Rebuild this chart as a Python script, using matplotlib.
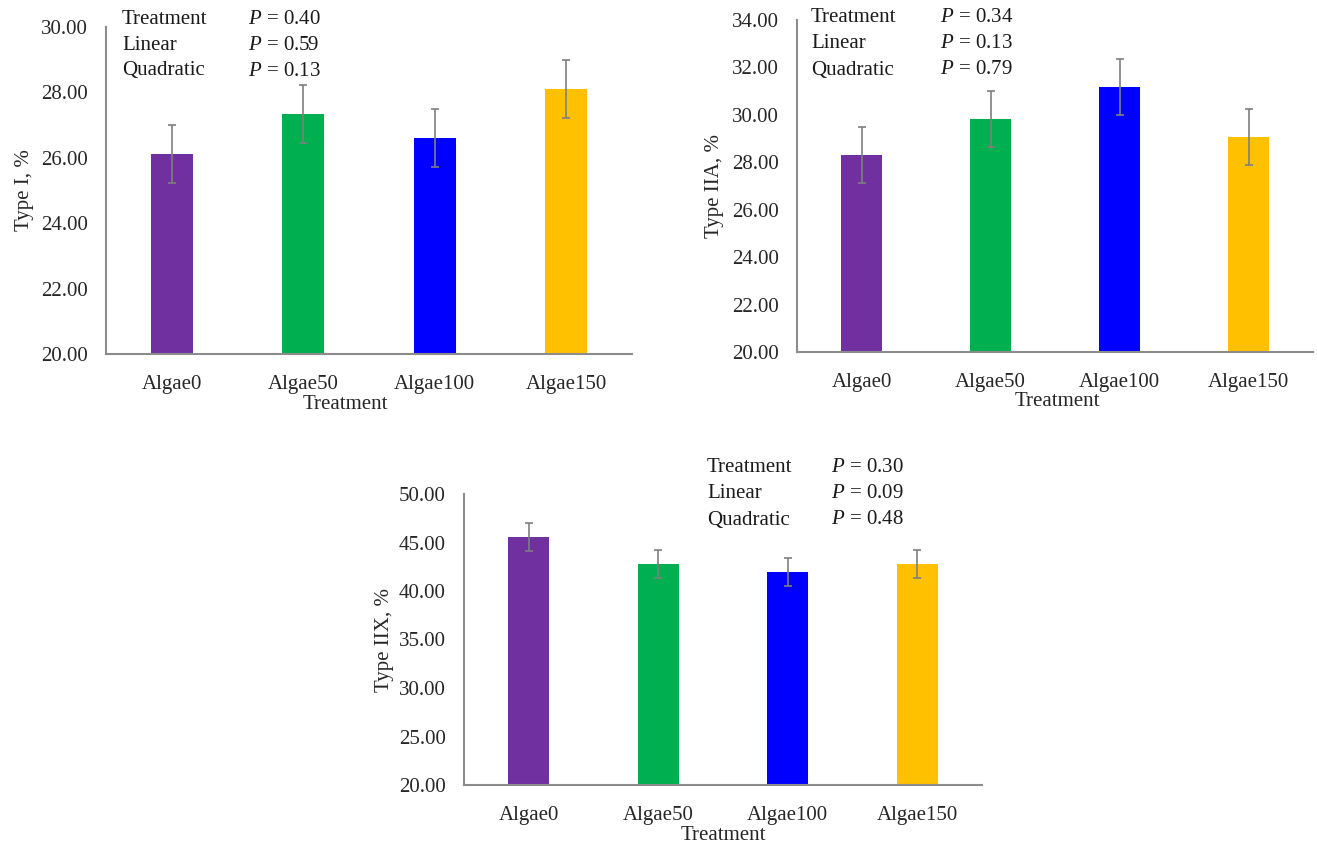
import matplotlib
matplotlib.use("Agg")
import matplotlib.pyplot as plt

plt.rcParams['font.family'] = ['Liberation Serif', 'DejaVu Serif']
plt.rcParams['mathtext.fontset'] = 'custom'
plt.rcParams['mathtext.it'] = 'Liberation Serif:italic'
plt.rcParams['mathtext.rm'] = 'Liberation Serif'

treatments = ['Algae0', 'Algae50', 'Algae100', 'Algae150']
colors = ['#7030A0', '#00B050', '#0000FF', '#FFC000']

type1_mean = [26.12, 27.34, 26.60, 28.10]
type1_err = [0.89, 0.89, 0.89, 0.89]
type1_p = ['0.40', '0.59', '0.13']

type2a_mean = [28.31, 29.83, 31.18, 29.07]
type2a_err = [1.18, 1.18, 1.18, 1.18]
type2a_p = ['0.34', '0.13', '0.79']

type2x_mean = [45.57, 42.78, 41.96, 42.78]
type2x_err = [1.44, 1.44, 1.44, 1.44]
type2x_p = ['0.30', '0.09', '0.48']

effects = ['Treatment', 'Linear', 'Quadratic']

W, H = 1317, 848


def px_axes(fig, left, right, top, bottom):
    return fig.add_axes([left / W, 1 - bottom / H, (right - left) / W, (bottom - top) / H])


def draw_panel(ax, means, errs, pvals, ylabel, ylim, yticks, box_px, xlabel_x, ylabel_dx, txt):
    x = range(len(treatments))
    ax.bar(x, [m - ylim[0] for m in means], bottom=ylim[0], width=0.32, color=colors, zorder=2)
    ax.errorbar(x, means, yerr=errs, fmt='none', ecolor='#7f7f7f', elinewidth=1.2,
                capsize=3, capthick=1.2, zorder=3)
    ax.set_xlim(-0.5, len(treatments) - 0.5)
    ax.set_ylim(*ylim)
    ax.set_yticks(yticks)
    ax.set_yticklabels([f'{v:.2f}' for v in yticks])
    ax.set_xticks(list(x))
    ax.set_xticklabels(treatments)
    for s in ['top', 'right']:
        ax.spines[s].set_visible(False)
    for s in ['left', 'bottom']:
        ax.spines[s].set_color('#8c8c8c')
        ax.spines[s].set_linewidth(1.5)
    ax.tick_params(axis='both', length=0, labelsize=15, colors='#262626')
    ax.tick_params(axis='y', pad=13)
    ax.tick_params(axis='x', pad=15)

    left, right, top, bottom = box_px
    w = right - left
    h = bottom - top
    ax.set_xlabel('Treatment', fontsize=15, color='#262626', va='center')
    ax.xaxis.set_label_coords((xlabel_x - left) / w, -50 / h)
    ax.set_ylabel(ylabel, fontsize=15, color='#262626', va='center')
    ax.yaxis.set_label_coords(-(ylabel_dx - 3) / w, 0.5)

    tx, px, ty = txt
    for i, (name, p) in enumerate(zip(effects, pvals)):
        yy = ty + i * 26
        ax.text((tx - left) / w, (bottom - yy) / h, name, transform=ax.transAxes,
                fontsize=15, va='center', ha='left', color='#1a1a1a')
        ax.text((px - left) / w, (bottom - yy) / h, f'$P$ = {p}', transform=ax.transAxes,
                fontsize=15, va='center', ha='left', color='#1a1a1a')


fig = plt.figure(figsize=(W / 100, H / 100), dpi=100)

box1 = (106, 632, 27, 354)
ax1 = px_axes(fig, *box1)
draw_panel(ax1, type1_mean, type1_err, type1_p, 'Type I, %', (20, 30), [20, 22, 24, 26, 28, 30],
           box1, 345, 84, (122, 248, 19))

box2 = (797, 1313, 20, 352)
ax2 = px_axes(fig, *box2)
draw_panel(ax2, type2a_mean, type2a_err, type2a_p, 'Type IIA, %', (20, 34),
           [20, 22, 24, 26, 28, 30, 32, 34], box2, 1057, 85, (811, 940, 18))

box3 = (464, 982, 494, 785)
ax3 = px_axes(fig, *box3)
draw_panel(ax3, type2x_mean, type2x_err, type2x_p, 'Type IIX, %', (20, 50),
           [20, 25, 30, 35, 40, 45, 50], box3, 723, 82, (707, 831, 468))

fig.savefig('out.png', dpi=100)
